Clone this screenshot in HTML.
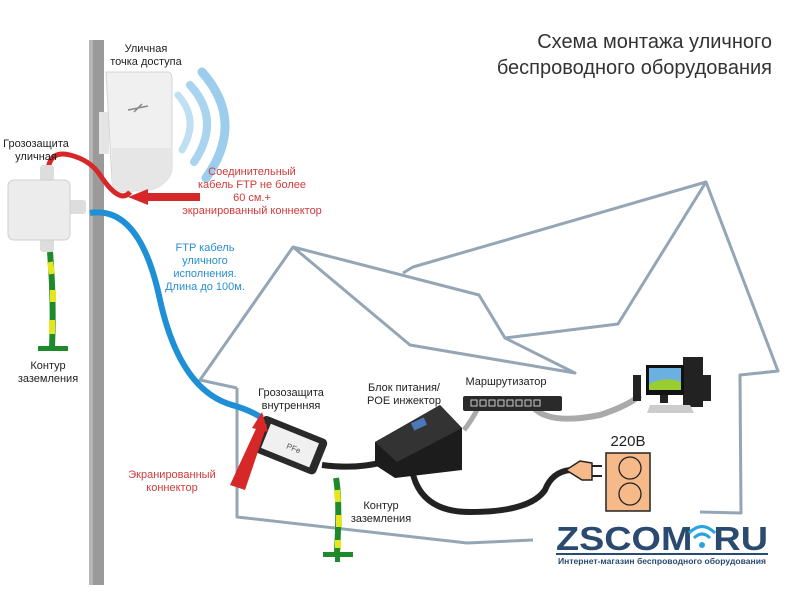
<!DOCTYPE html>
<html><head><meta charset="utf-8"><style>
body{margin:0;background:#fff}
svg{display:block;font-family:"Liberation Sans",sans-serif}
</style></head><body>
<svg width="800" height="600" viewBox="0 0 800 600" xmlns="http://www.w3.org/2000/svg">
<rect width="800" height="600" fill="#fff"/>
<!-- house -->
<g fill="none" stroke="#94a6b5" stroke-width="3" stroke-linejoin="round">
<polyline points="237,388 200,380 293,247 479,295 505,338 575,373 410,345 293,247"/>
<polyline points="505,338 618,324 706,182 413,267 403,273"/>
<polyline points="706,182 778,371 740,375 741,513 700,512"/>
<polyline points="237,388 237,517 467,543 533,540"/>
</g>
<!-- title -->
<text x="772" y="48" font-size="20" fill="#333" text-anchor="end">Схема монтажа уличного</text>
<text x="772" y="74" font-size="20" fill="#333" text-anchor="end">беспроводного оборудования</text>
<!-- pole -->
<rect x="89" y="40" width="15" height="545" fill="#9a9a9a"/>
<rect x="89" y="40" width="4" height="545" fill="#b5b5b5"/>
<!-- wifi waves -->
<g fill="none" stroke-linecap="round">
<path d="M178 95 Q200 120 182 150" stroke="#bfe0f3" stroke-width="7"/>
<path d="M190 85 Q222 120 194 162" stroke="#a8d4ef" stroke-width="8"/>
<path d="M202 72 Q246 122 206 178" stroke="#9ccdec" stroke-width="9"/>
</g>
<!-- AP -->
<rect x="99" y="112" width="10" height="42" fill="#e5e5e5"/>
<path d="M106 72 L168 72 Q172 72 172 80 L172 170 Q168 185 150 190 L120 192 Q112 190 112 180 Z" fill="#f0f0f0" stroke="#d4d4d4"/>
<path d="M112 148 L172 148 L172 170 Q168 185 150 190 L120 192 Q112 190 112 180Z" fill="#e6e6e6"/>
<path d="M128 110 L148 106 M134 112 L142 104" stroke="#888" stroke-width="1.5"/>
<!-- red cable -->
<path d="M48 170 Q50 150 70 155 Q90 160 100 175 Q120 205 130 192" fill="none" stroke="#d62828" stroke-width="5"/>
<polygon points="128,197 148,189 148,193 200,193 200,201 148,201 148,205" fill="#d62828"/>
<!-- blue cable -->
<path d="M90 213 Q140 205 160 300 Q180 390 232 405 Q250 410 262 418" fill="none" stroke="#1f8fd6" stroke-width="6"/>
<!-- outdoor box -->
<rect x="40" y="165" width="14" height="16" rx="3" fill="#ddd"/>
<rect x="66" y="200" width="20" height="14" rx="3" fill="#ddd"/>
<rect x="40" y="236" width="14" height="16" rx="3" fill="#ddd"/>
<rect x="8" y="180" width="62" height="60" rx="6" fill="#ececec" stroke="#cfcfcf"/>
<!-- ground lines -->
<path d="M50 252 Q54 300 52 348" stroke="#1e8a2c" stroke-width="6" fill="none"/>
<path d="M50 262 l2 12 M53 290 l0 12 M52 320 l0 14" stroke="#e6e620" stroke-width="6"/>
<rect x="38" y="346" width="30" height="5" fill="#1e8a2c"/>
<path d="M336 478 Q340 500 337 552" stroke="#1e8a2c" stroke-width="6" fill="none"/>
<path d="M337 490 l1 12 M339 515 l0 12 M338 540 l0 10" stroke="#e6e620" stroke-width="6"/>
<rect x="323" y="552" width="30" height="5" fill="#1e8a2c"/>
<rect x="335" y="548" width="5" height="14" fill="#1e8a2c"/>
<!-- indoor protector -->
<g transform="rotate(22 285 450)">
<rect x="252" y="425" width="70" height="38" rx="5" fill="#2a2a2a"/>
<rect x="262" y="431" width="52" height="26" fill="#f0f0f0"/>
<text x="285" y="448" font-size="8" fill="#555">PFe</text>
</g>
<polygon points="230,485 260,420 267,425 245,490" fill="#d62828"/>
<polygon points="262,412 268,432 252,428" fill="#d62828"/>
<!-- black cables -->
<path d="M322 465 Q360 470 390 460" stroke="#222" stroke-width="6" fill="none"/>
<path d="M412 470 Q420 512 470 512 Q530 512 545 490 Q552 472 570 470" stroke="#222" stroke-width="6" fill="none"/>
<!-- POE -->
<polygon points="375,442 440,405 462,428 462,470 395,478 375,465" fill="#1c1c1c"/>
<polygon points="375,442 440,405 462,428 397,462" fill="#333"/>
<rect x="412" y="420" width="14" height="8" fill="#4a78b8" transform="rotate(-25 419 424)"/>
<!-- gray cables -->
<path d="M478 408 Q472 420 464 430" stroke="#aaa" stroke-width="5" fill="none"/>
<path d="M534 408 Q550 425 600 415 Q630 405 640 395" stroke="#aaa" stroke-width="6" fill="none"/>
<!-- router -->
<rect x="463" y="396" width="99" height="15" rx="2" fill="#2a2a2a"/>
<g stroke="#ccc" stroke-width="1" fill="none">
<rect x="471" y="400" width="6" height="6"/><rect x="480" y="400" width="6" height="6"/><rect x="489" y="400" width="6" height="6"/><rect x="498" y="400" width="6" height="6"/><rect x="507" y="400" width="6" height="6"/><rect x="516" y="400" width="6" height="6"/><rect x="525" y="400" width="6" height="6"/><rect x="534" y="400" width="6" height="6"/>
</g>
<!-- PC -->
<rect x="633" y="375" width="8" height="26" fill="#222"/>
<rect x="703" y="375" width="8" height="26" fill="#222"/>
<rect x="683" y="357" width="20" height="50" fill="#222"/>
<rect x="646" y="365" width="38" height="30" fill="#111"/>
<rect x="649" y="368" width="32" height="22" fill="#6ab0e0"/>
<path d="M649 384 Q665 376 681 382 L681 390 L649 390Z" fill="#9acd32"/>
<rect x="660" y="395" width="8" height="8" fill="#222"/>
<polygon points="650,405 690,405 694,413 647,413" fill="#ccc"/>
<!-- outlet -->
<rect x="606" y="453" width="44" height="58" fill="#f6b98a" stroke="#222" stroke-width="1.5"/>
<circle cx="630" cy="468" r="11" fill="none" stroke="#222" stroke-width="1.3"/>
<circle cx="630" cy="494" r="11" fill="none" stroke="#222" stroke-width="1.3"/>
<path d="M566 470 L580 461 L592 463 L592 480 L582 480 Z" fill="#f6b98a" stroke="#222" stroke-width="1.5"/>
<path d="M592 466 L602 466 M592 476 L602 476" stroke="#222" stroke-width="2"/>
<text x="628" y="446" font-size="15" fill="#222" text-anchor="middle">220В</text>
<!-- logo -->
<text x="556" y="550" font-size="33" font-weight="bold" fill="#2b4a6f" textLength="212" lengthAdjust="spacingAndGlyphs">ZSCOM&#160;&#160;RU</text>
<circle cx="702" cy="545" r="3" fill="#2aa3e0"/>
<path d="M694 538 Q702 530 710 538 M689 533 Q702 520 715 533" stroke="#2aa3e0" stroke-width="3" fill="none"/>
<rect x="556" y="553" width="212" height="2" fill="#2b4a6f"/>
<text x="558" y="564" font-size="8.5" fill="#2b4a6f" font-weight="bold" textLength="208" lengthAdjust="spacingAndGlyphs">Интернет-магазин беспроводного оборудования</text>
<!-- labels -->
<g font-size="11" fill="#222" text-anchor="middle">
<text x="146" y="52">Уличная</text>
<text x="146" y="65">точка доступа</text>
<text x="36" y="147">Грозозащита</text>
<text x="36" y="160">уличная</text>
<text x="48" y="369">Контур</text>
<text x="48" y="382">заземления</text>
<text x="291" y="396">Грозозащита</text>
<text x="291" y="409">внутренняя</text>
<text x="404" y="391">Блок питания/</text>
<text x="404" y="404">POE инжектор</text>
<text x="506" y="385">Маршрутизатор</text>
<text x="381" y="509">Контур</text>
<text x="381" y="522">заземления</text>
</g>
<g font-size="11" fill="#d03a3a" text-anchor="middle">
<text x="252" y="175">Соединительный</text>
<text x="252" y="188">кабель FTP не более</text>
<text x="252" y="201">60 см.+</text>
<text x="252" y="214">экранированный коннектор</text>
<text x="172" y="478">Экранированный</text>
<text x="172" y="491">коннектор</text>
</g>
<g font-size="11" fill="#2a8fd0" text-anchor="middle">
<text x="205" y="251">FTP кабель</text>
<text x="205" y="264">уличного</text>
<text x="205" y="277">исполнения.</text>
<text x="205" y="290">Длина до 100м.</text>
</g>
</svg>
</body></html>
